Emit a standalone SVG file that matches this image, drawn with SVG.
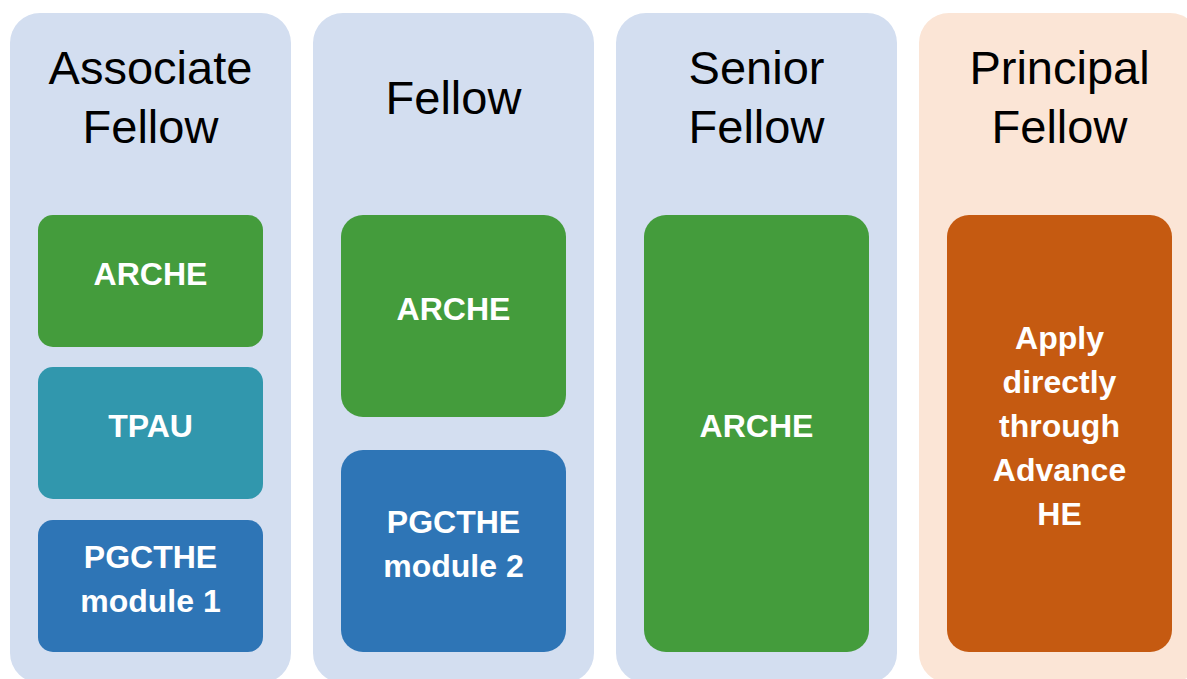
<svg xmlns="http://www.w3.org/2000/svg" width="1187" height="679" viewBox="0 0 1187 679">
<style>
.col{fill:#D3DEF0}
.colp{fill:#FBE5D6}
.title{font-family:"Liberation Sans",Arial,sans-serif;font-size:47px;fill:#000;text-anchor:middle}
.lbl{font-family:"Liberation Sans",Arial,sans-serif;font-weight:bold;font-size:32px;fill:#fff;text-anchor:middle}
.green{fill:#449C3C}
.teal{fill:#3197AD}
.blue{fill:#2E75B6}
.orange{fill:#C55A11}
</style>
<rect width="1187" height="679" fill="#fff"/>
<g id="col-associate">
<rect class="col" x="10" y="13" width="281" height="670" rx="30"/>
<text class="title" x="150.5" y="84">Associate</text>
<text class="title" x="150.5" y="143">Fellow</text>
</g>
<g id="col-fellow">
<rect class="col" x="313" y="13" width="281" height="670" rx="30"/>
<text class="title" x="453.5" y="114">Fellow</text>
</g>
<g id="col-senior">
<rect class="col" x="616" y="13" width="281" height="670" rx="30"/>
<text class="title" x="756.5" y="84">Senior</text>
<text class="title" x="756.5" y="143">Fellow</text>
</g>
<g id="col-principal">
<rect class="colp" x="919" y="13" width="281" height="670" rx="30"/>
<text class="title" x="1059.5" y="84">Principal</text>
<text class="title" x="1059.5" y="143">Fellow</text>
</g>
<g id="af-arche">
<rect class="green" x="38" y="215" width="225" height="132" rx="15"/>
<text class="lbl" x="150.5" y="285">ARCHE</text>
</g>
<g id="af-tpau">
<rect class="teal" x="38" y="367" width="225" height="132" rx="15"/>
<text class="lbl" x="150.5" y="437">TPAU</text>
</g>
<g id="af-pgcthe">
<rect class="blue" x="38" y="520" width="225" height="132" rx="15"/>
<text class="lbl" x="150.5" y="568">PGCTHE</text>
<text class="lbl" x="150.5" y="612">module 1</text>
</g>
<g id="f-arche">
<rect class="green" x="341" y="215" width="225" height="202" rx="22"/>
<text class="lbl" x="453.5" y="320">ARCHE</text>
</g>
<g id="f-pgcthe">
<rect class="blue" x="341" y="450" width="225" height="202" rx="22"/>
<text class="lbl" x="453.5" y="533">PGCTHE</text>
<text class="lbl" x="453.5" y="577">module 2</text>
</g>
<g id="sf-arche">
<rect class="green" x="644" y="215" width="225" height="437" rx="22"/>
<text class="lbl" x="756.5" y="437">ARCHE</text>
</g>
<g id="pf-apply">
<rect class="orange" x="947" y="215" width="225" height="437" rx="22"/>
<text class="lbl" x="1059.5" y="349">Apply</text>
<text class="lbl" x="1059.5" y="393">directly</text>
<text class="lbl" x="1059.5" y="437">through</text>
<text class="lbl" x="1059.5" y="481">Advance</text>
<text class="lbl" x="1059.5" y="525">HE</text>
</g>
<g id="connectors"/>
</svg>
